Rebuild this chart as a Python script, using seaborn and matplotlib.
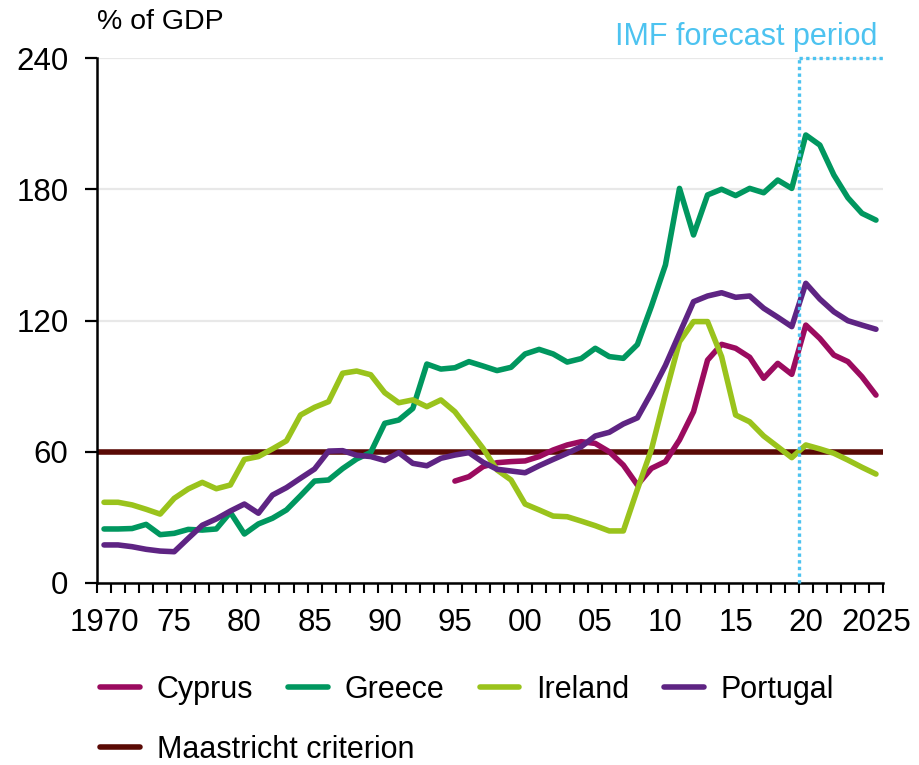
import matplotlib
matplotlib.use("Agg")
import matplotlib.pyplot as plt
import numpy as np
import pandas as pd
import seaborn as sns

# government debt, % of GDP
years = list(range(1970, 2026))
cyprus_years = list(range(1995, 2026))

cyprus = [46.6, 48.6, 53.2, 55.0, 55.5, 55.8, 57.8, 60.8, 63.1, 64.6,
          63.8, 60.0, 53.9, 44.8, 52.4, 55.5, 65.4, 78.3, 101.9, 109.1,
          107.3, 103.2, 93.6, 100.4, 95.4, 117.9, 111.8, 104.2, 101.2, 94.3, 85.9]
greece = [24.7, 24.7, 24.9, 26.8, 22.1, 22.7, 24.5, 24.2, 24.7, 32.3,
          22.4, 27.0, 29.6, 33.4, 39.9, 46.6, 47.1, 52.3, 56.7, 59.7,
          73.0, 74.5, 79.8, 100.1, 97.8, 98.4, 101.2, 99.2, 97.1, 98.6,
          104.7, 106.8, 104.7, 101.0, 102.6, 107.3, 103.5, 102.7, 109.0, 126.5,
          145.4, 180.4, 159.1, 177.4, 180.0, 177.1, 180.4, 178.4, 184.2, 180.4,
          204.8, 200.2, 186.5, 176.1, 169.0, 165.9]
ireland = [36.9, 36.9, 35.7, 33.7, 31.5, 38.7, 43.0, 46.0, 43.1, 44.8,
           56.5, 57.8, 61.3, 65.0, 76.8, 80.3, 82.9, 95.9, 96.9, 95.2,
           87.0, 82.4, 83.7, 80.6, 83.7, 78.3, 70.0, 61.6, 51.7, 47.1,
           36.1, 33.4, 30.6, 30.3, 28.3, 26.2, 23.8, 23.8, 42.8, 61.0,
           86.3, 110.3, 119.5, 119.5, 103.5, 76.8, 73.7, 67.2, 62.3, 57.3,
           63.1, 61.3, 59.3, 56.2, 52.9, 49.8]
portugal = [17.4, 17.4, 16.6, 15.4, 14.6, 14.3, 20.4, 26.4, 29.3, 32.9,
            36.1, 31.9, 40.2, 43.6, 47.9, 52.1, 60.3, 60.5, 58.4, 57.8,
            56.0, 59.6, 54.7, 53.6, 57.0, 58.5, 59.6, 55.2, 52.0, 51.2,
            50.4, 53.6, 56.5, 59.3, 62.3, 67.2, 68.9, 72.7, 75.5, 87.0,
            99.5, 114.1, 128.6, 131.2, 132.7, 130.6, 131.2, 125.6, 121.5, 117.2,
            137.0, 129.8, 124.0, 119.9, 117.9, 116.0]

maastricht = 60
forecast_start = 2019.5
year_labels = ["1970", "75", "80", "85", "90", "95", "00", "05", "10", "15", "20", "2025"]

colors = {"Cyprus": "#9B0B5F", "Greece": "#00975F", "Ireland": "#9AC31C", "Portugal": "#5E2483"}
blue = "#4DC3F0"

df = pd.concat([
    pd.DataFrame({"year": cyprus_years, "debt": cyprus, "country": "Cyprus"}),
    pd.DataFrame({"year": years, "debt": greece, "country": "Greece"}),
    pd.DataFrame({"year": years, "debt": ireland, "country": "Ireland"}),
    pd.DataFrame({"year": years, "debt": portugal, "country": "Portugal"}),
])

sns.set_style("white")
plt.rcParams["font.family"] = ["Liberation Sans", "DejaVu Sans"]
plt.rcParams["text.color"] = "black"
plt.rcParams["xtick.color"] = "black"
plt.rcParams["ytick.color"] = "black"
fs = 22.5
lw = 4.0

fig = plt.figure(figsize=(9.19, 7.65), dpi=100)
ax = fig.add_axes([97 / 919, 1 - 583 / 765, 786 / 919, 525 / 765])

ax.set_axisbelow(True)
ax.yaxis.grid(True, color="#E8E8E8", linewidth=1.6)
ax.xaxis.grid(False)

mline = ax.axhline(maastricht, color="#5A0A05", linewidth=lw, label="Maastricht criterion", zorder=2)
sns.lineplot(data=df, x="year", y="debt", hue="country", palette=colors,
             linewidth=lw, ax=ax, zorder=3)
handles, labels = ax.get_legend_handles_labels()
ax.get_legend().remove()
# keep only the country lines for the first legend row
country_h = [h for h, l in zip(handles, labels) if l in colors]
country_l = [l for l in labels if l in colors]

# forecast period marker
ax.plot([forecast_start, forecast_start], [0, 240], color=blue, linestyle=(0, (1, 1)),
        linewidth=2.4, zorder=5, clip_on=False)
ax.plot([forecast_start, 2025.5], [240, 240], color=blue, linestyle=(0, (1, 1)),
        linewidth=2.4, zorder=5, clip_on=False)

ax.set_xlim(1969.5, 2025.5)
ax.set_ylim(0, 240)
ax.set_yticks([0, 60, 120, 180, 240])
ax.set_xticks(np.arange(1969.5, 2026, 1))
ax.set_xticklabels([])
ax.set_xticks(np.arange(1970, 2026, 5), minor=True)
ax.set_xticklabels(year_labels, minor=True)
ax.tick_params(axis="x", which="major", bottom=True, direction="out", length=7, width=1.5, color="black")
ax.tick_params(axis="x", which="minor", bottom=True, length=0, pad=18, labelsize=fs, labelcolor="black")
ax.tick_params(axis="y", left=True, direction="out", length=8.5, width=1.6, color="black", pad=12,
               labelsize=fs, labelcolor="black")
ax.set_xlabel("")
ax.set_ylabel("")

sns.despine(ax=ax)
for s in ["left", "bottom"]:
    ax.spines[s].set_color("black")
    ax.spines[s].set_linewidth(1.8)

fig.text(97 / 919, 1 - 22 / 765, "% of GDP", fontsize=20.5, ha="left", va="center")
fig.text(877 / 919, 1 - 37 / 765, "IMF forecast period", fontsize=22, color=blue,
         ha="right", va="center")

fig.legend(country_h, country_l, loc="center left", bbox_to_anchor=(100 / 919, 1 - 690 / 765),
           ncol=4, frameon=False, fontsize=22, handlelength=1.3, handletextpad=0.55,
           columnspacing=1.15, borderpad=0, borderaxespad=0)
fig.legend([mline], ["Maastricht criterion"], loc="center left", bbox_to_anchor=(100 / 919, 1 - 750 / 765),
           frameon=False, fontsize=22, handlelength=1.3, handletextpad=0.55, borderpad=0, borderaxespad=0)

fig.savefig("out.png", dpi=100)
